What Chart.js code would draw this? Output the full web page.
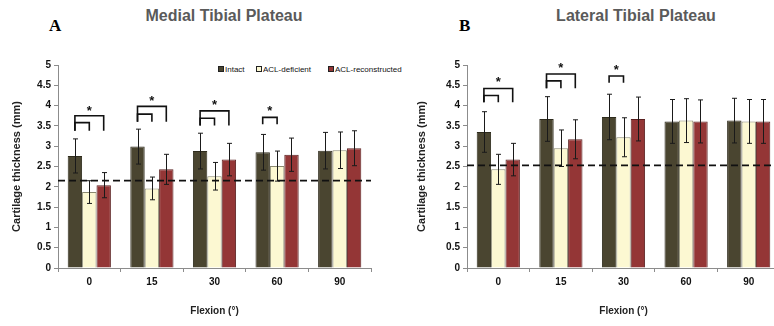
<!DOCTYPE html>
<html><head><meta charset="utf-8">
<script src="https://cdn.jsdelivr.net/npm/chart.js@4/dist/chart.umd.min.js"></script>
<style>
html,body{margin:0;padding:0;width:774px;height:326px;overflow:hidden;background:#fff;font-family:"Liberation Sans",Arial,sans-serif;}
.panel{position:absolute;top:0;height:326px;}
#pA{left:0;width:390px;}
#pB{left:390px;width:400px;}
.title{position:absolute;top:8px;font-weight:bold;font-size:16px;line-height:16px;color:#5a5a5a;white-space:nowrap;transform:translateX(-50%);}
.letter{position:absolute;top:17px;font-family:"Liberation Serif","Times New Roman",serif;font-weight:bold;font-size:17px;line-height:17px;color:#000;}
.lg{position:absolute;top:65px;font-size:8px;line-height:9px;white-space:nowrap;color:#111;}
.lg i{display:inline-block;width:4px;height:4px;border:1px solid #222;margin-right:1px;vertical-align:0px;}
</style>
</head><body>
<div class="title" style="left:224px">Medial Tibial Plateau</div>
<div class="title" style="left:636px">Lateral Tibial Plateau</div>
<div class="letter" style="left:49px">A</div>
<div class="letter" style="left:459px">B</div>
<div id="legend"></div>
<div class="panel" id="pA"><canvas id="cA" width="390" height="326"></canvas></div>
<div class="panel" id="pB"><canvas id="cB" width="400" height="326"></canvas></div>
<script>
// ---- data ----
const categories = ['0', '15', '30', '60', '90'];
const seriesNames = ['Intact', 'ACL-deficient', 'ACL-reconstructed'];
const seriesColors = ['#4a4530', '#fcf8d2', '#943636'];
const seriesBorders = ['#2e2b1c', '#8a8870', '#5a2020'];

const medialIntact = [2.76, 2.99, 2.88, 2.85, 2.89];
const medialIntactErr = [0.42, 0.43, 0.44, 0.44, 0.45];
const medialDeficient = [1.87, 1.96, 2.26, 2.51, 2.90];
const medialDeficientErr = [0.28, 0.28, 0.34, 0.37, 0.45];
const medialReconstructed = [2.04, 2.43, 2.67, 2.79, 2.95];
const medialReconstructedErr = [0.31, 0.37, 0.40, 0.41, 0.43];
const medialReference = 2.15;
// [category index, from series, to series, bracket top value, leg bottom value]
const medialBrackets = [
  [0, 0, 2, 3.75, 3.38], [0, 0, 1, 3.58, 3.38],
  [1, 0, 2, 3.98, 3.60], [1, 0, 1, 3.79, 3.60],
  [2, 0, 2, 3.87, 3.51], [2, 0, 1, 3.69, 3.51],
  [3, 0, 1, 3.71, 3.54]
];
// [category index, from series, to series, star value]
const medialStars = [[0, 0, 2, 3.96], [1, 0, 2, 4.20], [2, 0, 2, 4.10], [3, 0, 1, 3.96]];

const lateralIntact = [3.35, 3.67, 3.72, 3.61, 3.63];
const lateralIntactErr = [0.50, 0.55, 0.56, 0.54, 0.55];
const lateralDeficient = [2.43, 2.95, 3.22, 3.63, 3.61];
const lateralDeficientErr = [0.37, 0.45, 0.48, 0.54, 0.54];
const lateralReconstructed = [2.67, 3.17, 3.67, 3.61, 3.61];
const lateralReconstructedErr = [0.40, 0.48, 0.54, 0.53, 0.54];
const lateralReference = 2.53;
const lateralBrackets = [
  [0, 0, 2, 4.42, 4.08], [0, 0, 1, 4.25, 4.08],
  [1, 0, 2, 4.78, 4.43], [1, 0, 1, 4.61, 4.43],
  [2, 0, 1, 4.73, 4.56]
];
const lateralStars = [[0, 0, 2, 4.66], [1, 0, 2, 5.02], [2, 0, 1, 4.97]];

const yTicks = {min: 0, max: 5, step: 0.5};

// ---- legend ----
(function(){
  const lefts = [218, 256, 328];
  const box = document.getElementById('legend');
  seriesNames.forEach((n, i) => {
    const d = document.createElement('div');
    d.className = 'lg';
    d.style.left = lefts[i] + 'px';
    d.innerHTML = '<i style="background:' + seriesColors[i] + '"></i>' + n;
    box.appendChild(d);
  });
})();

const FONT = '"Liberation Sans", Arial, sans-serif';

function overlay(errs, ref, brackets, stars) {
  return {
    id: 'overlay',
    afterDatasetsDraw(chart) {
      const ctx = chart.ctx, ys = chart.scales.y, area = chart.chartArea;
      const cx = (di, i) => chart.getDatasetMeta(di).data[i].x;
      ctx.save();
      // error bars
      ctx.strokeStyle = '#1a1a1a'; ctx.lineWidth = 1;
      errs.forEach((e, di) => {
        chart.getDatasetMeta(di).data.forEach((bar, i) => {
          const v = chart.data.datasets[di].data[i];
          const x = Math.round(bar.x) + 0.5;
          const yt = ys.getPixelForValue(v + e[i]), yb = ys.getPixelForValue(v - e[i]);
          ctx.beginPath();
          ctx.moveTo(x, yt); ctx.lineTo(x, yb);
          ctx.moveTo(x - 2.5, yt); ctx.lineTo(x + 2.5, yt);
          ctx.moveTo(x - 2.5, yb); ctx.lineTo(x + 2.5, yb);
          ctx.stroke();
        });
      });
      // reference dashed line
      const yr = ys.getPixelForValue(ref);
      ctx.strokeStyle = '#111'; ctx.lineWidth = 1.8; ctx.setLineDash([7, 4]);
      ctx.beginPath(); ctx.moveTo(area.left, yr); ctx.lineTo(area.right, yr); ctx.stroke();
      ctx.setLineDash([]);
      // brackets
      ctx.strokeStyle = '#111'; ctx.lineWidth = 1.6;
      brackets.forEach(([ci, a, b, top, bot]) => {
        const x1 = cx(a, ci), x2 = cx(b, ci);
        const yt = ys.getPixelForValue(top), yb = ys.getPixelForValue(bot);
        ctx.beginPath();
        ctx.moveTo(x1, yb); ctx.lineTo(x1, yt); ctx.lineTo(x2, yt); ctx.lineTo(x2, yb);
        ctx.stroke();
      });
      // stars
      ctx.fillStyle = '#111'; ctx.font = 'bold 13px ' + FONT;
      ctx.textAlign = 'center'; ctx.textBaseline = 'alphabetic';
      stars.forEach(([ci, a, b, v]) => {
        const x = (cx(a, ci) + cx(b, ci)) / 2;
        ctx.fillText('*', x, ys.getPixelForValue(v) + 7.5);
      });
      ctx.restore();
    }
  };
}

function makeChart(id, vals, errs, ref, brackets, stars, yWidth, titlePad, padRight) {
  return new Chart(document.getElementById(id), {
    type: 'bar',
    data: {
      labels: categories,
      datasets: vals.map((d, i) => ({
        label: seriesNames[i], data: d,
        backgroundColor: seriesColors[i], borderColor: seriesBorders[i], borderWidth: 1,
        categoryPercentage: 0.69, barPercentage: 1
      }))
    },
    options: {
      responsive: false, animation: false, devicePixelRatio: 1,
      layout: {padding: {top: 65, right: padRight, left: 0, bottom: 0}},
      plugins: {legend: {display: false}, tooltip: {enabled: false}},
      scales: {
        x: {
          afterFit(s) { s.height = 58; },
          grid: {offset: true, drawOnChartArea: false, tickLength: 4, color: '#8c8c8c'},
          border: {color: '#8c8c8c', width: 1},
          ticks: {color: '#111', padding: 4, font: {family: FONT, size: 10, weight: 'bold'}},
          title: {display: true, text: 'Flexion (°)', color: '#222', padding: {top: 0, bottom: 9},
                  font: {family: FONT, size: 10, weight: 'bold'}}
        },
        y: {
          min: yTicks.min, max: yTicks.max,
          afterFit(s) { s.width = yWidth; },
          grid: {drawOnChartArea: false, tickLength: 4, color: '#8c8c8c'},
          border: {color: '#8c8c8c', width: 1},
          ticks: {stepSize: yTicks.step, color: '#111', padding: 3, font: {family: FONT, size: 10, weight: 'bold'},
                  callback: v => String(Math.round(v * 10) / 10)},
          title: {display: true, text: 'Cartilage thickness (mm)', color: '#222', padding: {top: titlePad, bottom: 0},
                  font: {family: FONT, size: 11, weight: 'bold'}}
        }
      }
    },
    plugins: [overlay(errs, ref, brackets, stars)]
  });
}

makeChart('cA', [medialIntact, medialDeficient, medialReconstructed],
  [medialIntactErr, medialDeficientErr, medialReconstructedErr],
  medialReference, medialBrackets, medialStars, 58, 10, 19);
makeChart('cB', [lateralIntact, lateralDeficient, lateralReconstructed],
  [lateralIntactErr, lateralDeficientErr, lateralReconstructedErr],
  lateralReference, lateralBrackets, lateralStars, 77, 25, 10);
</script>
</body></html>
